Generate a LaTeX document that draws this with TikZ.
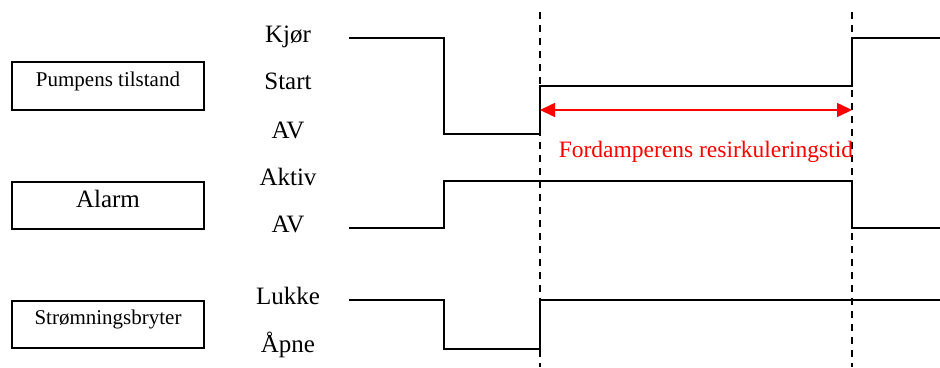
\documentclass[tikz,border=0pt]{standalone}
\usepackage{fontspec}
\setmainfont{Liberation Serif}
\usetikzlibrary{arrows.meta}
\begin{document}
\begin{tikzpicture}[x=1pt,y=-1pt,
  box/.style={draw,line width=1.6pt,inner sep=0pt},
  lbl/.style={anchor=base,inner sep=0pt,font=\fontsize{25}{30}\selectfont},
  boxtxt/.style={anchor=base,inner sep=0pt},
  sig/.style={line width=1.8pt,line join=miter},
  guide/.style={line width=1.3pt,dash pattern=on 7pt off 6pt},
  span/.style={red,line width=1.5pt,{Triangle[length=15pt,width=14pt]}-{Triangle[length=15pt,width=14pt]}}]
\useasboundingbox (0,0) rectangle (940,367);
% boxes
\draw[box] (12,62) rectangle (204,110);
\draw[box] (12,182) rectangle (204,229);
\draw[box] (12,301) rectangle (204,348);
\node[boxtxt,font=\fontsize{21}{25}\selectfont] (pt) at (108,86) {Pumpens tilstand};
\node[boxtxt,font=\fontsize{25}{30}\selectfont] (al) at (108,207) {Alarm};
\node[boxtxt,font=\fontsize{21}{25}\selectfont] (sb) at (108,324) {Strømningsbryter};
% level labels
\node[lbl] (kj) at (288,42) {Kjør};
\node[lbl] (st) at (288,89) {Start};
\node[lbl] (av1) at (288,138) {AV};
\node[lbl] (ak) at (288,185) {Aktiv};
\node[lbl] (av2) at (288,232) {AV};
\node[lbl] (lu) at (288,304) {Lukke};
\node[lbl] (ap) at (288,352) {Åpne};
% guide coordinates
\coordinate (g1t) at (540,12);
\coordinate (g1b) at (540,367);
\coordinate (g2t) at (852,12);
\coordinate (g2b) at (852,367);
\draw[guide] (g1t) -- (g1b);
\draw[guide] (g2t) -- (g2b);
% pump signal
\coordinate (p0) at (349,38);
\coordinate (p1) at (444,38);
\coordinate (p2) at (444,134);
\coordinate (p3) at (540,134);
\coordinate (p4) at (540,86);
\coordinate (p5) at (852,86);
\coordinate (p6) at (852,38);
\coordinate (p7) at (940,38);
\draw[sig] (p0) -- (p1) -- (p2) -- (p3) -- (p4) -- (p5) -- (p6) -- (p7);
% alarm signal
\coordinate (a0) at (349,228);
\coordinate (a1) at (444,228);
\coordinate (a2) at (444,181);
\coordinate (a3) at (852,181);
\coordinate (a4) at (852,228);
\coordinate (a5) at (940,228);
\draw[sig] (a0) -- (a1) -- (a2) -- (a3) -- (a4) -- (a5);
% flow switch signal
\coordinate (f0) at (349,300);
\coordinate (f1) at (444,300);
\coordinate (f2) at (444,349);
\coordinate (f3) at (540,349);
\coordinate (f4) at (540,300);
\coordinate (f5) at (940,300);
\draw[sig] (f0) -- (f1) -- (f2) -- (f3) -- (f4) -- (f5);
% recirculation time
\coordinate (r0) at (540,110);
\coordinate (r1) at (852,110);
\draw[span] (r0) -- (r1);
\node[anchor=base,inner sep=0pt,red,font=\fontsize{23.5}{28}\selectfont] (rt) at (706,157) {Fordamperens resirkuleringstid};
\end{tikzpicture}
\end{document}
